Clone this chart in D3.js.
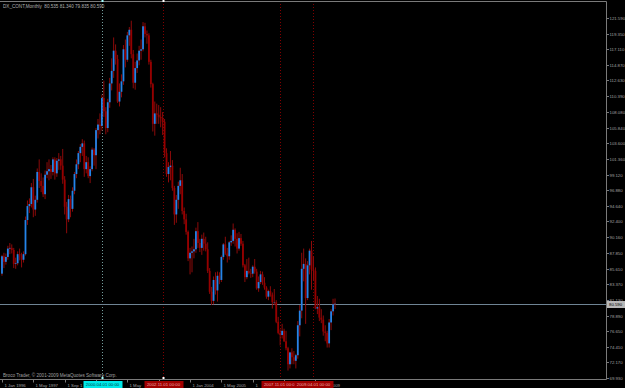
<!DOCTYPE html>
<html>
<head>
<meta charset="utf-8">
<script src="https://cdn.jsdelivr.net/npm/d3@7"></script>
<style>
  html, body { margin: 0; padding: 0; background: #000; }
  svg { display: block; }
  text { font-family: "Liberation Sans", Arial, sans-serif; }
</style>
</head>
<body>
<svg id="chart" width="625" height="388"></svg>
<script>
// monthly bars, Jan 1996 .. Mar 2010
const opens = [
  84.9, 87.4, 86.6, 87.3, 88.5, 88.6, 88.3, 86.3, 86.4, 87.7, 87.5, 86.9,
  87.7, 92.6, 94.6, 94.9, 97.3, 94.1, 95.5, 99.5, 98.2, 97.5, 96.3, 99.1,
  99.6, 99.9, 99.5, 101.3, 99.3, 101.1, 101.3, 100.4, 98.4, 94.5, 92.7, 95.6,
  94.2, 96.8, 99.2, 100.6, 102.2, 103.1, 103.6, 99.9, 100.9, 98.9, 99.9, 102.7,
  101.9, 105.5, 106.3, 106.1, 110.1, 108.2, 105.8, 109.5, 112.2, 114.0, 116.9, 115.7,
  109.6, 111.0, 112.5, 117.1, 115.6, 119.1, 119.9, 116.4, 112.3, 114.4, 115.5, 116.9,
  117.1, 120.4, 119.3, 119.1, 115.3, 112.1, 106.4, 107.9, 107.7, 107.4, 107.2, 106.7,
  102.2, 99.2, 100.2, 100.4, 97.2, 93.4, 95.5, 97.5, 98.3, 93.9, 92.7, 90.9,
  87.1, 87.9, 88.1, 88.4, 91.0, 89.3, 88.6, 89.9, 89.2, 88.4, 85.3, 82.3,
  81.0, 84.0, 82.5, 84.6, 84.0, 87.3, 89.1, 87.8, 87.4, 89.4, 89.6, 91.2,
  89.9, 88.5, 90.0, 89.2, 86.1, 84.4, 85.3, 85.0, 84.9, 85.9, 85.2, 82.8,
  83.7, 84.8, 83.6, 82.9, 81.6, 82.4, 81.9, 80.8, 80.8, 78.0, 76.4, 76.1,
  76.7, 75.2, 74.2, 71.9, 73.6, 72.9, 72.4, 73.2, 77.5, 79.6, 85.6, 86.3,
  81.4, 86.1, 88.2, 85.5, 85.3, 79.9, 80.1, 78.6, 78.3, 76.6, 76.4, 74.9,
  77.9, 79.5, 80.535
];
const highs = [
  87.6, 87.9, 87.8, 88.9, 89.3, 89.1, 88.6, 87.2, 88.1, 88.5, 87.9, 88.1,
  93.1, 95.4, 95.7, 97.9, 98.5, 96.1, 100.0, 101.3, 99.3, 98.7, 99.7, 100.9,
  101.3, 100.5, 101.6, 101.6, 101.5, 102.2, 101.8, 102.8, 98.9, 95.2, 96.2, 96.1,
  97.3, 99.5, 101.3, 102.5, 103.5, 104.2, 104.0, 101.8, 101.6, 100.3, 103.0, 102.9,
  105.8, 107.1, 107.9, 110.6, 112.6, 108.8, 110.0, 113.0, 115.8, 118.8, 117.8, 116.3,
  112.2, 113.5, 117.7, 118.5, 119.6, 120.3, 121.2, 117.0, 115.3, 116.5, 117.6, 118.5,
  121.0, 120.9, 119.8, 119.4, 115.6, 112.3, 109.6, 109.3, 109.1, 108.8, 108.1, 107.1,
  102.9, 100.9, 102.5, 101.2, 97.5, 96.2, 98.1, 100.1, 99.2, 94.4, 93.5, 91.1,
  88.6, 88.8, 89.9, 91.5, 92.3, 89.9, 90.5, 90.8, 90.2, 89.4, 85.7, 83.0,
  84.5, 85.1, 85.2, 85.1, 87.5, 89.3, 90.2, 88.6, 89.6, 90.4, 92.1, 91.4,
  90.7, 90.9, 90.6, 89.6, 86.3, 87.0, 87.2, 85.6, 86.1, 87.0, 85.6, 84.5,
  85.3, 85.2, 84.4, 83.1, 82.6, 83.1, 82.2, 82.7, 81.1, 78.7, 76.9, 77.7,
  77.0, 76.7, 74.4, 73.7, 74.2, 73.8, 73.4, 78.1, 80.4, 87.9, 88.5, 87.1,
  86.7, 88.5, 89.6, 87.4, 85.8, 81.7, 81.3, 79.8, 78.9, 77.5, 76.7, 78.4,
  79.8, 81.3, 81.34
];
const lows = [
  84.6, 85.7, 86.2, 86.9, 87.7, 87.8, 85.7, 85.6, 86.1, 86.8, 85.8, 86.5,
  87.5, 91.9, 93.6, 94.4, 93.0, 93.2, 95.1, 97.2, 96.6, 95.9, 95.6, 98.6,
  98.3, 98.5, 99.0, 98.4, 98.8, 99.8, 99.8, 97.8, 93.4, 90.7, 92.3, 93.0,
  93.8, 96.3, 98.6, 99.9, 100.9, 101.8, 98.8, 99.3, 98.6, 97.9, 99.6, 100.4,
  99.9, 104.3, 104.9, 105.4, 107.4, 104.9, 105.2, 108.7, 111.2, 113.0, 114.9, 109.4,
  108.9, 110.2, 112.0, 114.5, 115.3, 117.6, 115.8, 111.5, 111.3, 113.7, 114.8, 115.6,
  116.8, 118.8, 117.9, 114.9, 111.6, 105.3, 104.7, 106.4, 106.4, 105.9, 104.8, 101.6,
  98.8, 98.0, 98.3, 96.8, 91.9, 92.2, 94.2, 96.3, 93.4, 92.0, 90.5, 86.7,
  84.8, 85.1, 87.1, 87.9, 88.6, 88.0, 87.6, 88.2, 88.1, 85.0, 82.0, 80.4,
  80.5, 81.9, 80.9, 83.4, 83.7, 86.9, 87.6, 86.5, 86.9, 88.9, 89.2, 88.8,
  87.8, 88.2, 88.9, 85.8, 83.7, 84.1, 84.8, 84.3, 84.4, 84.9, 82.6, 82.3,
  83.4, 83.3, 82.6, 81.3, 81.1, 81.6, 79.9, 80.4, 77.8, 76.2, 74.6, 75.6,
  75.1, 73.9, 71.0, 71.3, 71.9, 71.9, 71.3, 72.7, 75.9, 78.5, 83.8, 77.7,
  81.1, 84.8, 82.6, 83.9, 79.8, 79.1, 78.1, 77.8, 76.0, 75.2, 74.3, 74.3,
  76.8, 78.9, 79.835
];
const closes = [
  87.4, 86.6, 87.3, 88.5, 88.6, 88.3, 86.3, 86.4, 87.7, 87.5, 86.9, 87.7,
  92.6, 94.6, 94.9, 97.3, 94.1, 95.5, 99.5, 98.2, 97.5, 96.3, 99.1, 99.6,
  99.9, 99.5, 101.3, 99.3, 101.1, 101.3, 100.4, 98.4, 94.5, 92.7, 95.6, 94.2,
  96.8, 99.2, 100.6, 102.2, 103.1, 103.6, 99.9, 100.9, 98.9, 99.9, 102.7, 101.9,
  105.5, 106.3, 106.1, 110.1, 108.2, 105.8, 109.5, 112.2, 114.0, 116.9, 115.7, 109.6,
  111.0, 112.5, 117.1, 115.6, 119.1, 119.9, 116.4, 112.3, 114.4, 115.5, 116.9, 117.1,
  120.4, 119.3, 119.1, 115.3, 112.1, 106.4, 107.9, 107.7, 107.4, 107.2, 106.7, 102.2,
  99.2, 100.2, 100.4, 97.2, 93.4, 95.5, 97.5, 98.3, 93.9, 92.7, 90.9, 87.1,
  87.9, 88.1, 88.4, 91.0, 89.3, 88.6, 89.9, 89.2, 88.4, 85.3, 82.3, 81.0,
  84.0, 82.5, 84.6, 84.0, 87.3, 89.1, 87.8, 87.4, 89.4, 89.6, 91.2, 89.9,
  88.5, 90.0, 89.2, 86.1, 84.4, 85.3, 85.0, 84.9, 85.9, 85.2, 82.8, 83.7,
  84.8, 83.6, 82.9, 81.6, 82.4, 81.9, 80.8, 80.8, 78.0, 76.4, 76.1, 76.7,
  75.2, 74.2, 71.9, 73.6, 72.9, 72.4, 73.2, 77.5, 79.6, 85.6, 86.3, 81.4,
  86.1, 88.2, 85.5, 85.3, 79.9, 80.1, 78.6, 78.3, 76.6, 76.4, 74.9, 77.9,
  79.5, 80.5, 80.59
];

const priceTicks = [121.590, 119.350, 117.110, 114.870, 112.630, 110.390, 108.080, 105.840,
  103.600, 101.360, 99.120, 96.880, 94.640, 92.400, 90.160, 87.850, 85.610, 83.370,
  81.130, 78.890, 76.650, 74.410, 72.170, 69.930];

const timeTicks = ["1996-01", "1997-05", "1998-09", "2000-01", "2001-05", "2002-09",
  "2004-01", "2005-05", "2006-09", "2008-01", "2009-05"];
const timeTickLabels = ["1 Jan 1996", "1 May 1997", "1 Sep 1998", "1 Jan 2000", "1 May 2001",
  "1 Sep 2002", "1 Jan 2004", "1 May 2005", "1 Sep 2006", "1 Jan 2008", "1 May 2009"];

// vertical line objects
const vlineDates = ["2000-04", "2002-11", "2007-11", "2009-04"];
const vlineLabels = ["2000.04.01 00:00", "2002.11.01 00:00", "2007.11.01 00:00", "2009.04.01 00:00"];
const vlineColors = ["#00e8e8", "#a00000", "#a00000", "#a00000"];

const title = "DX_CONT,Monthly  80.535 81.340 79.835 80.590";
const bidPrice = 80.590;

const W = 625, H = 388;
const axisX = 606.5, plotBottom = 379.5;
const fs = 4.3;

const fmtM = d3.timeFormat("%Y-%m");
const months = d3.timeMonth.range(new Date(1996, 0, 1), new Date(2010, 3, 1)).map(fmtM);
const bars = months.map((m, i) => ({m, o: opens[i], h: highs[i], l: lows[i], c: closes[i]}));

const x = d3.scaleBand().domain(months).range([1, 336]).padding(0);
const cx = m => x(m) + x.bandwidth() / 2;
const y = d3.scaleLinear().domain([69.93, 121.59]).range([378, 18]);

const svg = d3.select("#chart");
svg.append("rect").attr("width", W).attr("height", H).attr("fill", "#000");

const boxes = vlineDates.map(d => {
  const tx = Math.round(cx(d)) + 0.5;
  return [tx - 19, tx + 20];
});

// vertical dotted lines
const vl = svg.append("g");
vlineDates.forEach((d, i) => {
  vl.append("line")
    .attr("x1", Math.round(cx(d)) + 0.5).attr("x2", Math.round(cx(d)) + 0.5)
    .attr("y1", 1).attr("y2", plotBottom)
    .attr("stroke", i === 0 ? "#9ad0d0" : vlineColors[i]).attr("stroke-width", 1)
    .attr("stroke-dasharray", "1,2").attr("opacity", i === 0 ? 0.75 : 0.8);
});

// bid line
svg.append("line")
  .attr("x1", 0).attr("x2", axisX)
  .attr("y1", Math.round(y(bidPrice)) + 0.5).attr("y2", Math.round(y(bidPrice)) + 0.5)
  .attr("stroke", "#6f8494").attr("stroke-width", 1);

// candles
const g = svg.append("g");
g.selectAll(".wick").data(bars).enter().append("line")
  .attr("class", "wick")
  .attr("x1", d => cx(d.m)).attr("x2", d => cx(d.m))
  .attr("y1", d => y(d.h)).attr("y2", d => y(d.l))
  .attr("stroke", "#8c0a0a").attr("stroke-width", 1);
g.selectAll(".body").data(bars).enter().append("rect")
  .attr("class", "body")
  .attr("x", d => cx(d.m) - 0.9)
  .attr("width", 1.8)
  .attr("y", d => y(Math.max(d.o, d.c)))
  .attr("height", d => Math.max(0.4, Math.abs(y(d.o) - y(d.c))))
  .attr("fill", d => d.c >= d.o ? "#2484e8" : "#960000");

// frame
svg.append("line").attr("x1", 0).attr("x2", axisX).attr("y1", 1.5).attr("y2", 1.5)
  .attr("stroke", "#7a7a7a");
svg.append("line").attr("x1", axisX).attr("x2", axisX).attr("y1", 1.5).attr("y2", plotBottom)
  .attr("stroke", "#7a7a7a");
svg.append("line").attr("x1", 0).attr("x2", axisX).attr("y1", plotBottom).attr("y2", plotBottom)
  .attr("stroke", "#7a7a7a");

// price axis
const yAxis = svg.append("g");
priceTicks.forEach(v => {
  const py = Math.round(y(v)) + 0.5;
  yAxis.append("line").attr("x1", axisX).attr("x2", axisX + 2.5).attr("y1", py).attr("y2", py)
    .attr("stroke", "#7a7a7a");
  yAxis.append("text").attr("x", 609.5).attr("y", py + 1.6)
    .attr("font-size", fs).attr("fill", "#a0a0a0").text(v.toFixed(3));
});

// bid price box
const by = Math.round(y(bidPrice));
svg.append("rect").attr("x", axisX + 0.5).attr("y", by - 3).attr("width", 18).attr("height", 7)
  .attr("fill", "#b8b8b8");
svg.append("text").attr("x", 609).attr("y", by + 2)
  .attr("font-size", fs).attr("fill", "#000").text(bidPrice.toFixed(3));

// time axis: the date boxes of the line objects hide parts of the labels,
// so only the uncovered part of each label is written
const tAxis = svg.append("g");
const inBox = px => boxes.some(b => px > b[0] && px < b[1]);
timeTicks.forEach((t, i) => {
  const tx = Math.round(cx(t)) + 0.5;
  tAxis.append("line").attr("x1", tx).attr("x2", tx).attr("y1", plotBottom).attr("y2", plotBottom + 3)
    .attr("stroke", "#7a7a7a");
  const lbl = timeTickLabels[i];
  const probe = tAxis.append("text").attr("font-size", fs);
  const widthOf = s => { probe.text(s); return probe.node().getComputedTextLength(); };
  // drop leading characters that sit under a box, then trailing ones that run into one
  let start = 0;
  while (start < lbl.length && inBox(tx + 2 + widthOf(lbl.slice(0, start + 1)))) start++;
  let end = lbl.length;
  const x0 = tx + 2 + widthOf(lbl.slice(0, start));
  while (end > start && boxes.some(b => b[0] > x0 && b[0] < x0 + widthOf(lbl.slice(start, end)))) end--;
  probe.remove();
  const part = lbl.slice(start, end).replace(/^\s+|\s+$/g, "");
  if (part.length === 0) return;
  tAxis.append("text").attr("x", x0).attr("y", 386.5)
    .attr("font-size", fs).attr("fill", "#a0a0a0").text(part);
});

// date boxes for the vertical lines
vlineDates.forEach((d, i) => {
  const tx = Math.round(cx(d)) + 0.5;
  svg.append("rect").attr("x", boxes[i][0]).attr("y", 381).attr("width", boxes[i][1] - boxes[i][0]).attr("height", 7)
    .attr("fill", vlineColors[i]);
  svg.append("text").attr("x", tx).attr("y", 386.3).attr("text-anchor", "middle")
    .attr("font-size", fs).attr("fill", i === 0 ? "#004040" : "#e8a8a8").text(vlineLabels[i]);
});

// anchor markers on the selected lines
[0, 1].forEach(i => {
  const tx = Math.round(cx(vlineDates[i]));
  [0, 377].forEach(py => {
    svg.append("rect").attr("x", tx - 0.5).attr("y", py).attr("width", 2).attr("height", 2)
      .attr("fill", i === 0 ? "#a0ffff" : "#ffffff");
  });
});

// texts
svg.append("text").attr("x", 3).attr("y", 7.5)
  .attr("font-size", 4.6).attr("fill", "#b0b0b0").attr("xml:space", "preserve").text(title);
svg.append("text").attr("x", 3).attr("y", 377)
  .attr("font-size", 4.6).attr("fill", "#a0a0a0")
  .text("Broco Trader, \u00a9 2001-2009 MetaQuotes Software Corp.");
</script>
</body>
</html>
